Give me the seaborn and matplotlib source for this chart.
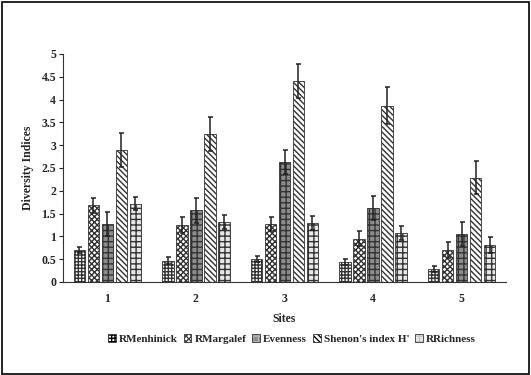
import numpy as np
import pandas as pd
import matplotlib
matplotlib.use("Agg")
import matplotlib.pyplot as plt
import seaborn as sns
from matplotlib.patches import Rectangle

sites = ["1", "2", "3", "4", "5"]
indices = ["RMenhinick", "RMargalef", "Evenness", "Shenon's index H'", "RRichness"]
menhinick = [0.70, 0.47, 0.50, 0.44, 0.29]
margalef = [1.68, 1.25, 1.27, 0.95, 0.70]
evenness = [1.27, 1.57, 2.63, 1.62, 1.05]
shannon = [2.90, 3.25, 4.40, 3.87, 2.29]
richness = [1.72, 1.32, 1.30, 1.07, 0.81]
err_menhinick = [0.06, 0.07, 0.07, 0.06, 0.07]
err_margalef = [0.17, 0.17, 0.15, 0.17, 0.17]
err_evenness = [0.27, 0.27, 0.27, 0.27, 0.27]
err_shannon = [0.37, 0.37, 0.37, 0.40, 0.37]
err_richness = [0.15, 0.15, 0.15, 0.15, 0.17]

values = [menhinick, margalef, evenness, shannon, richness]
errors = [err_menhinick, err_margalef, err_evenness, err_shannon, err_richness]

rows = []
for name, vals in zip(indices, values):
    for s, v in zip(sites, vals):
        rows.append({"Sites": s, "Index": name, "Value": v})
df = pd.DataFrame(rows)

sns.set_style("white")
plt.rcParams["font.family"] = ["Liberation Serif", "DejaVu Serif"]
plt.rcParams["font.weight"] = "bold"
plt.rcParams["hatch.linewidth"] = 1.0

fig = plt.figure(figsize=(5.31, 3.75), dpi=100)
ax = fig.add_axes([63 / 531, 1 - 282 / 375, 443 / 531, 228 / 375])

faces = ["white", "white", "#8c8c8c", "white", "#e8e8e8"]
hatches = ["+++++", "xxxxxx", "+++", "\\\\\\\\\\\\", "+++"]
hcolors = ["black", "#444444", "#b5b5b5", "black", "#c4c4c4"]

sns.barplot(data=df, x="Sites", y="Value", hue="Index", hue_order=indices,
            order=sites, width=0.79, gap=0.18, palette=["white"] * 5,
            edgecolor="black", linewidth=0.6, errorbar=None, legend=False, ax=ax)

bar_groups = list(ax.containers)
handles = []
for k, cont in enumerate(bar_groups):
    for j, bar in enumerate(cont):
        bar.set_facecolor(faces[k])
        bar.set_hatch(hatches[k])
        bar._hatch_color = matplotlib.colors.to_rgba(hcolors[k])
        bar.set_edgecolor("#333333")
        cx = bar.get_x() + bar.get_width() / 2
        ax.errorbar(cx, values[k][j], yerr=errors[k][j], color="#222222",
                    elinewidth=1.1, capsize=1.8, capthick=1.1, zorder=5)
    h = Rectangle((0, 0), 1, 1, facecolor=faces[k], hatch=hatches[k],
                  edgecolor="#333333", linewidth=0.6)
    h._hatch_color = matplotlib.colors.to_rgba(hcolors[k])
    handles.append(h)

ax.set_ylim(0, 5)
ax.set_xlim(-0.5, 4.5)
ax.set_yticks(np.arange(0, 5.01, 0.5))
ax.set_yticklabels(["0", "0.5", "1", "1.5", "2", "2.5", "3", "3.5", "4", "4.5", "5"])
ax.set_xticks(range(5))
ax.set_xticks(np.arange(-0.5, 4.6, 1), minor=True)
ax.tick_params(axis="x", which="major", length=0, pad=8, labelsize=8.5)
ax.tick_params(axis="x", which="minor", length=4, direction="inout", width=0.8)
ax.tick_params(axis="y", length=3, direction="out", width=0.8, labelsize=8.5, pad=2, left=True)
for lab in ax.get_xticklabels() + ax.get_yticklabels():
    lab.set_fontweight("bold")

sns.despine(ax=ax)
ax.spines["left"].set_linewidth(0.8)
ax.spines["bottom"].set_linewidth(0.8)
ax.spines["left"].set_color("#333333")
ax.spines["bottom"].set_color("#333333")

ax.set_xlabel("Sites", fontsize=8.5, fontweight="bold", labelpad=6)
ax.set_ylabel("Diversity Indices", fontsize=8.5, fontweight="bold", labelpad=5)

fig.legend(handles, indices, loc="center", bbox_to_anchor=(0.55, 1 - 339 / 375),
           ncol=5, frameon=False, handlelength=0.7, handleheight=0.7,
           handletextpad=0.3, columnspacing=0.5, prop={"weight": "bold", "size": 8})

fig.patches.append(Rectangle((0.003, 0.004), 0.994, 0.992, transform=fig.transFigure,
                             fill=False, edgecolor="black", linewidth=1.2))

fig.savefig("out.png", dpi=100)
